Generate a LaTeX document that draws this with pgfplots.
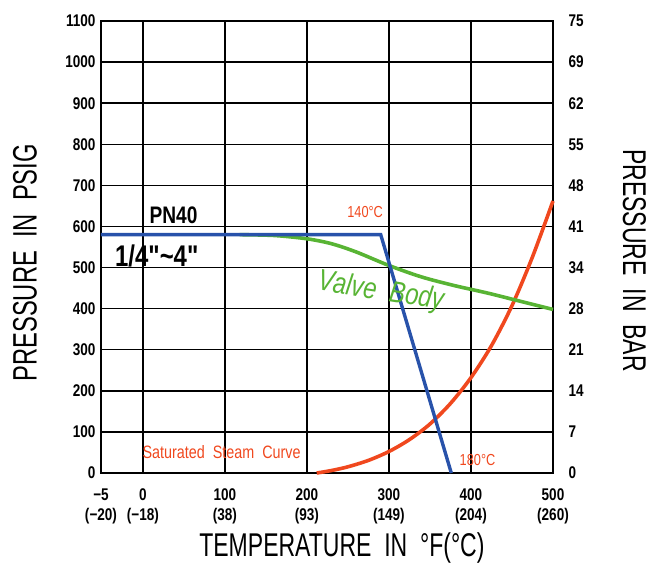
\documentclass[border=0pt]{standalone}
\usepackage{fontspec}
\setmainfont{Liberation Sans}[FakeStretch=0.8]
\newfontfamily\labfont{Liberation Sans}[FakeStretch=0.7]
\newfontfamily\annfont{Liberation Sans}[FakeStretch=0.8, Ligatures=TeXOff]
\usepackage{pgfplots}
\pgfplotsset{compat=1.18}
\usepackage{pgfplotstable}
\usetikzlibrary{calc}

\definecolor{pnblue}{RGB}{40,82,170}
\definecolor{bodygreen}{RGB}{88,180,52}
\definecolor{steamred}{RGB}{240,72,30}

% PN40 rating, deg F vs psig
\pgfplotstableread{
t p
-51 580
290 580
376 0
}\pnforty

% valve body rating
\pgfplotstableread{
t p
118 580
160 578
200 570
230 558
260 538
300 505
340 477
380 456
420 438
460 418
500 398
}\valvebody

% saturated steam curve
\pgfplotstableread{
t p
212 0
230 6.1
250 15.1
275 30.7
300 52.3
325 81.3
350 119.2
375 169.2
400 232.1
425 310
450 407.3
475 526
500 662
}\steam

\begin{document}
\begin{tikzpicture}
\begin{axis}[
    name=main,
    width=452bp, height=452bp, scale only axis,
    xmin=-51, xmax=500, ymin=0, ymax=1100,
    xtick={-51,0,100,200,300,400,500},
    xticklabels={{−5\\(−20)},{0\\(−18)},{100\\(38)},{200\\(93)},{300\\(149)},{400\\(204)},{500\\(260)}},
    ytick={0,100,...,1100},
    major tick length=0pt,
    grid=major,
    major grid style={black, line width=1.5pt},
    axis line style={black, line width=1.6pt},
    xticklabel style={align=center, font=\bfseries\fontsize{17}{20}\selectfont, yshift=-12bp},
    yticklabel style={font=\bfseries\fontsize{17}{17}\selectfont, xshift=-2bp},
    /pgf/number format/assume math mode=true,
    /pgf/number format/1000 sep={},
    xlabel={\labfont\fontsize{33}{33}\selectfont TEMPERATURE\ \ IN\ \ °F(°C)},
    xlabel style={at={(axis description cs:0.533,-0.166)}, anchor=center},
    ylabel={\labfont\fontsize{34}{34}\selectfont PRESSURE\ \ IN\ \ PSIG},
    ylabel style={at={(axis description cs:-0.168,0.465)}, anchor=center},
    clip=false,
]
\addplot[steamred, line width=3.6pt, smooth] table[x=t, y=p] {\steam};
\addplot[bodygreen, line width=3.6pt, smooth] table[x=t, y=p] {\valvebody};
\addplot[pnblue, line width=3.4pt] table[x=t, y=p] {\pnforty};

\node[anchor=west, font=\annfont\bfseries\fontsize{24}{24}\selectfont] at (axis cs:4,628) {PN40};
\node[anchor=west, font=\annfont\bfseries\fontsize{30}{30}\selectfont] at (axis cs:-38,528) {1/4"\textasciitilde4"};
\node[steamred, font=\fontsize{16}{16}\selectfont] at (axis cs:271,634) {140°C};
\node[bodygreen, rotate=-9, font=\itshape\fontsize{30}{30}\selectfont] at (axis cs:290,440) {Valve\ \ Body};
\node[steamred, font=\fontsize{18}{18}\selectfont] at (axis cs:96,51) {Saturated\ \ Steam\ \ Curve};
\node[steamred, font=\fontsize{16}{16}\selectfont] at (axis cs:408,32) {180°C};
\node[rotate=-90, font=\labfont\fontsize{33}{33}\selectfont] at (axis description cs:1.18,0.47) {PRESSURE\ \ IN\ \ BAR};
\end{axis}
\begin{axis}[
    width=452bp, height=452bp, scale only axis,
    xmin=-51, xmax=500, ymin=0, ymax=1100,
    axis x line=none, axis y line*=right,
    axis line style={draw=none},
    major tick length=0pt,
    ytick={0,100,...,1100},
    yticklabels={0,7,14,21,28,34,41,48,55,62,69,75},
    yticklabel style={font=\bfseries\fontsize{17}{17}\selectfont, xshift=12bp, anchor=west},
]
\end{axis}
\path ($(main.south west)+(-101bp,-92bp)$) rectangle ($(main.north east)+(98bp,21bp)$);
\end{tikzpicture}
\end{document}
